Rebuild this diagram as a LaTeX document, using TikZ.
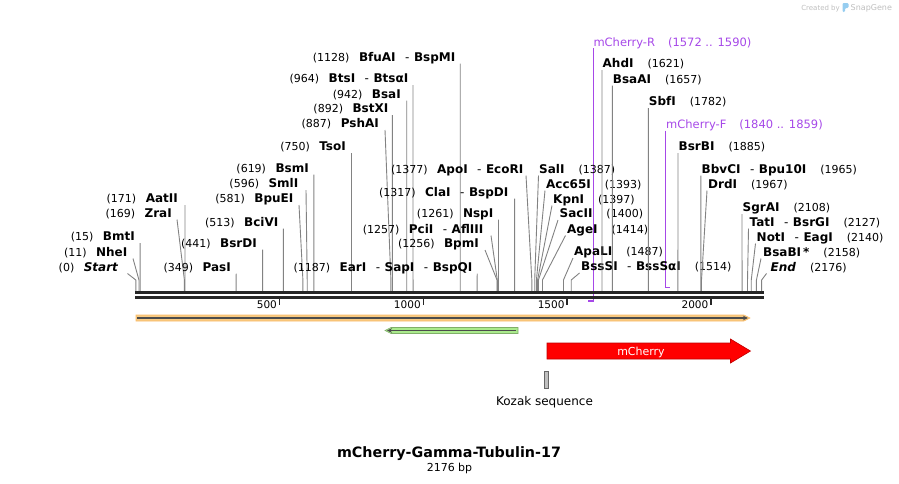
\documentclass[tikz,border=0pt]{standalone}
\usepackage{fontspec}
\setmainfont{DejaVu Sans}
\usetikzlibrary{calc,arrows.meta}

\definecolor{cutgray}{RGB}{130,130,130}
\definecolor{primerpurple}{RGB}{166,72,232}
\definecolor{featorange}{RGB}{248,202,130}
\definecolor{featgreen}{RGB}{170,234,140}
\definecolor{snapgray}{RGB}{190,190,190}
\definecolor{snapblue}{RGB}{150,205,240}

\newcommand{\cutpos}[1]{{\fontsize{11}{13}\selectfont\mdseries(#1)}}
\newcommand{\alsocut}{\hspace{9.5pt}{\mdseries -}\hspace{4.5pt}}

\begin{document}
\begin{tikzpicture}[x=1pt, y=-1pt,
        cutline/.style={draw=cutgray, line width=0.9pt},
        enzL/.style={anchor=base east, inner sep=0pt, font=\fontsize{12}{14}\selectfont\bfseries},
        enzR/.style={anchor=base west, inner sep=0pt, font=\fontsize{12}{14}\selectfont\bfseries},
        primer/.style={anchor=base west, inner sep=0pt, text=primerpurple, font=\fontsize{11.5}{13}\selectfont},
        primerline/.style={draw=primerpurple, line width=1.6pt},
        mapline/.style={draw=black!85, line width=2.7pt},
        ruler/.style={draw=black!85, line width=1.6pt},
        rulerlabel/.style={anchor=base east, inner sep=0pt, font=\fontsize{10.5}{12}\selectfont},
        featline/.style={draw=black!70, line width=1.3pt, -{Stealth[length=5pt,width=4.5pt]}}
    ]
        \useasboundingbox (0,0) rectangle (899,483);

        % SnapGene mark
        \node[anchor=base east, inner sep=0pt, text=snapgray, font=\fontsize{7}{8}\selectfont] (created) at (840,10) {Created by};
        \fill[snapblue, rounded corners=1.2pt] (842.5,12) -- (842.5,3) -- (848.5,3) -- (848.5,8) -- (845,8) -- (845,12) -- cycle;
        \node[anchor=base west, inner sep=0pt, text=snapgray, font=\fontsize{8}{9}\selectfont] (snapgene) at (850.5,10) {SnapGene};

        % Primer
        \node[primer] (mchr) at (593.3,46) {mCherry-R\hspace{13pt}(1572 .. 1590)};
        \coordinate (mchrend) at (588,300.7);
        \draw[primerline] ($(mchr.base west)+(0,2)$) |- (mchrend);
        \node[primer] (mchf) at (666,128.5) {mCherry-F\hspace{13pt}(1840 .. 1859)};
        \coordinate (mchfend) at (670.3,287.3);
        \draw[primerline] ($(mchf.base west)+(-0.5,2)$) |- (mchfend);

        % Schnittstellen links
        \foreach \nm/\tx/\yc/\xt/\bp/\lab in {
            startmark/118.5/267/127.5/0/{\textit{Start}},
            nhei/127.5/252/133/11/{NheI},
            bmti/135/236.5/140.1/15/{BmtI},
            zrai/172/213/177/169/{ZraI},
            aatii/178/198.5/185/171/{AatII},
            pasi/231/267/236.2/349/{PasI},
            bsrdi/257/243/262.6/441/{BsrDI},
            bcivi/278.5/222/283.3/513/{BciVI},
            bpuei/293.5/198.5/299/581/{BpuEI},
            smli/298.5/183.5/306/596/{SmlI},
            bsmi/309/168/313.8/619/{BsmI},
            tsoi/346/146.5/351.5/750/{TsoI},
            pshai/379/123.5/385/887/{PshAI},
            bstxi/388.5/108.5/392.3/892/{BstXI},
            bsai/401/94/406.7/942/{BsaI},
            btsi/408.5/78.5/413/964/{BtsI\alsocut BtsαI},
            bfuai/455.5/57/460.2/1128/{BfuAI\alsocut BspMI},
            eari/472.5/267/477.2/1187/{EarI\alsocut SapI\alsocut BspQI},
            bpmi/479/243.5/485/1256/{BpmI},
            pcii/483.5/229/491/1257/{PciI\alsocut AflIII},
            nspi/493.5/213/498.5/1261/{NspI},
            clai/508.5/192/514.6/1317/{ClaI\alsocut BspDI},
            apoi/523.5/169/526/1377/{ApoI\alsocut EcoRI}} {
            \coordinate (c\nm) at ({135.8+0.2876*\bp},291.5);
            \node[enzL] (\nm) at (\tx,{\yc+4}) {\cutpos{\bp}\hspace{9.5pt}\lab};
            \draw[cutline] ($(\nm.base east)+({\xt-\tx},2.5)$) -- ($(c\nm)+(0,-11.5)$) -- (c\nm);
        }

        % Schnittstellen rechts
        \foreach \nm/\tx/\yc/\xt/\bp/\lab in {
            sali/539/169/538.5/1387/{SalI},
            acc65i/546/184/545/1393/{Acc65I},
            kpni/553/199/552/1397/{KpnI},
            sacii/559.5/213.5/558/1400/{SacII},
            agei/567/229/565.5/1414/{AgeI},
            apali/574/251.5/573/1487/{ApaLI},
            bsssi/581/266.5/579.5/1514/{BssSI\alsocut BssSαI},
            ahdi/602.5/63.5/602/1621/{AhdI},
            bsaai/612.7/79/612.3/1657/{BsaAI},
            sbfi/648.7/101.5/648.3/1782/{SbfI},
            bsrbi/678.5/146.5/678/1885/{BsrBI},
            bbvci/701.5/169/700.9/1965/{BbvCI\alsocut Bpu10I},
            drdi/708/184/707/1967/{DrdI},
            sgrai/742.5/207.5/742/2108/{SgrAI},
            tati/749.5/222/748.5/2127/{TatI\alsocut BsrGI},
            noti/756.5/237/755.5/2140/{NotI\alsocut EagI},
            bsabi/763/252/761/2158/{BsaBI\,*},
            endmark/770.5/267/766.5/2176/{\textit{End}}} {
            \coordinate (c\nm) at ({135.8+0.2876*\bp},291.5);
            \node[enzR] (\nm) at (\tx,{\yc+4}) {\lab\hspace{14pt}\cutpos{\bp}};
            \draw[cutline] ($(\nm.base west)+({\xt-\tx},2.5)$) -- ($(c\nm)+(0,-11.5)$) -- (c\nm);
        }

        % Sequenzlinie
        \coordinate (mapstart) at (135,0);
        \coordinate (mapend) at (763.5,0);
        \draw[mapline] ($(mapstart)+(0,292.5)$) -- ($(mapend)+(0,292.5)$);
        \draw[mapline] ($(mapstart)+(0,297.5)$) -- ($(mapend)+(0,297.5)$);
        \foreach \t in {500,1000,1500,2000} {
            \coordinate (t\t) at ({135.8+0.2876*\t},298);
            \draw[ruler] (t\t) -- ++(0,6.5);
            \node[rulerlabel] (lt\t) at ($(t\t)+(-2.5,10.5)$) {\t};
        }

        % Features
        \filldraw[fill=featorange, draw=featorange!80!orange, line width=0.6pt]
            (136,315) -- (744,315) -- (750,318) -- (744,321) -- (136,321) -- cycle;
        \draw[featline] (137,318) -- (748,318);
        \filldraw[fill=featgreen, draw=featgreen!75!black, line width=0.6pt]
            (518,327.5) -- (391,327.5) -- (385,330.5) -- (391,333.5) -- (518,333.5) -- cycle;
        \draw[featline] (516,330.5) -- (387,330.5);
        \filldraw[fill=red, draw=red!75!black, line width=0.6pt]
            (547,343) -- (730.5,343) -- (730.5,339) -- (750.5,351) -- (730.5,363) -- (730.5,359) -- (547,359) -- cycle;
        \node[anchor=base, inner sep=0pt, text=white, font=\fontsize{11}{13}\selectfont] (mcherry) at (641,355) {mCherry};
        \filldraw[fill=black!25, draw=black!60, line width=0.6pt] (544,371.5) rectangle (548,388.5);
        \node[anchor=base, inner sep=0pt, font=\fontsize{12}{14}\selectfont] (kozak) at (544.5,405.5) {Kozak sequence};

        % Titel
        \node[anchor=base, inner sep=0pt, font=\fontsize{14.3}{17}\selectfont\bfseries] (title) at (449,457) {mCherry-Gamma-Tubulin-17};
        \node[anchor=base, inner sep=0pt, font=\fontsize{11}{13}\selectfont] (bplen) at (449.5,471) {2176 bp};
    \end{tikzpicture}
\end{document}
